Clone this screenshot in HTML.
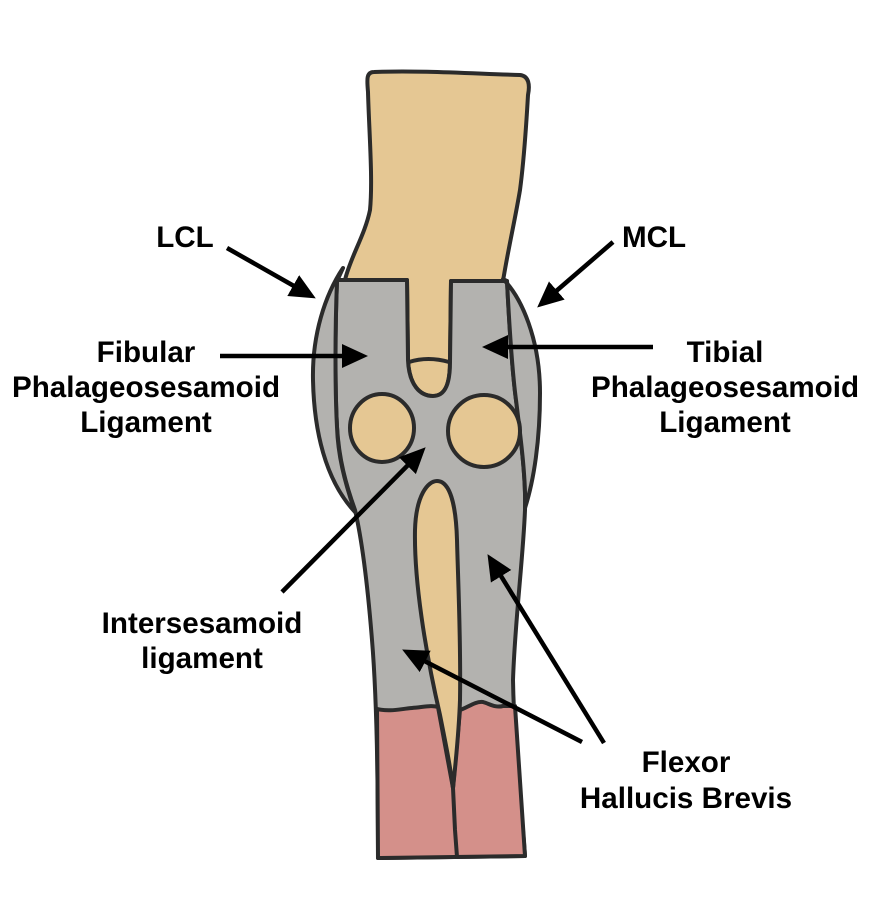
<!DOCTYPE html>
<html><head><meta charset="utf-8"><style>
html,body{margin:0;padding:0;background:#fff;}
svg{display:block;}
text{font-family:"Liberation Sans",Arial,sans-serif;font-weight:bold;font-size:29.6px;fill:#000;text-anchor:middle;}
</style></head><body>
<svg width="886" height="911" viewBox="0 0 886 911" xmlns="http://www.w3.org/2000/svg">
<defs>
<marker id="ah" markerUnits="userSpaceOnUse" markerWidth="27" markerHeight="25" refX="13" refY="12" orient="auto">
<path d="M0,0 L26,12 L0,24 Z" fill="#000"/>
</marker>
</defs>
<g stroke="#2b2b2b" stroke-width="4" stroke-linejoin="round" stroke-linecap="round">
<!-- bone -->
<path fill="#e5c793" d="M374,72 C420,70 480,74 520,75 C529,76 530,85 528,95 C526,130 524,160 520,190 C515,220 508,250 503,281 L451,281 L450,362 C450,382 446,396 433,396 C420,396 409,385 408,360 L407,280 L345,280 C350,258 365,235 370,210 C373,180 369,130 368,92 C367,80 366,72 374,72 Z"/>
<!-- body -->
<path fill="#b3b2af" d="M337,280 L407,280 L408,360 C409,385 420,396 433,396 C446,396 450,382 450,362 L451,281 L507,281 C509,320 512,370 516,400 C521,440 526,480 525,510 C523,560 515,620 513,680 C514,740 521,800 525,856 L378,858 C378,780 377,700 372,640 C368,590 362,540 355,510 C346,485 339,460 337,427 C335,390 335,330 337,280 Z"/>
<!-- LCL -->
<path fill="#b3b2af" d="M343,268 C325,295 312,335 313,380 C314,430 325,480 355,512 C344,480 338,455 337,427 C335,390 335,330 337,281 Z"/>
<!-- MCL -->
<path fill="#b3b2af" d="M503,279 C522,298 540,340 540,393 C540,440 534,480 525,508 C526,480 521,440 516,400 C512,370 509,320 507,281 Z"/>
<!-- notch line -->
<path fill="none" d="M409,362 Q428,356 449,362"/>
<!-- sesamoids -->
<ellipse cx="382" cy="428" rx="32" ry="34" fill="#e5c793"/>
<ellipse cx="484" cy="431" rx="36" ry="36" fill="#e5c793"/>
<!-- pink -->
<path fill="#d4908a" d="M377,709 C390,712 400,709 412,708 C424,707 432,705 438,707 L453,788 L460,710 C467,708 475,701 483,702 C490,704 495,708 503,706 L515,706 L525,856 L378,858 Z"/>
<!-- slit -->
<path fill="#e5c793" d="M437,481 C428,481 416,495 415,530 C414,580 425,650 440,715 C446,745 450,765 453,788 C456,760 459,730 460,700 C461,640 458,580 457,540 C456,505 450,481 437,481 Z"/>
<path fill="none" d="M453,788 L455,830 L457,857"/>
</g>
<!-- arrows -->
<g stroke="#000" stroke-width="4.5" fill="none" marker-end="url(#ah)">
<line x1="227" y1="248" x2="304.5" y2="292"/>
<line x1="613" y1="242" x2="547" y2="299"/>
<line x1="220" y1="356" x2="355" y2="356"/>
<line x1="653" y1="347" x2="495" y2="347"/>
<line x1="282" y1="592" x2="416.5" y2="456.5"/>
<line x1="582" y1="742" x2="413.7" y2="655.5"/>
<line x1="604" y1="743" x2="494.3" y2="565.2"/>
</g>
<!-- labels -->
<text x="185" y="247">LCL</text>
<text x="654" y="247">MCL</text>
<text x="146" y="362">Fibular</text>
<text x="146" y="397">Phalageosesamoid</text>
<text x="146" y="432">Ligament</text>
<text x="725" y="362">Tibial</text>
<text x="725" y="397">Phalageosesamoid</text>
<text x="725" y="432">Ligament</text>
<text x="202" y="633">Intersesamoid</text>
<text x="202" y="668">ligament</text>
<text x="686" y="772">Flexor</text>
<text x="686" y="808">Hallucis Brevis</text>
</svg>
</body></html>
